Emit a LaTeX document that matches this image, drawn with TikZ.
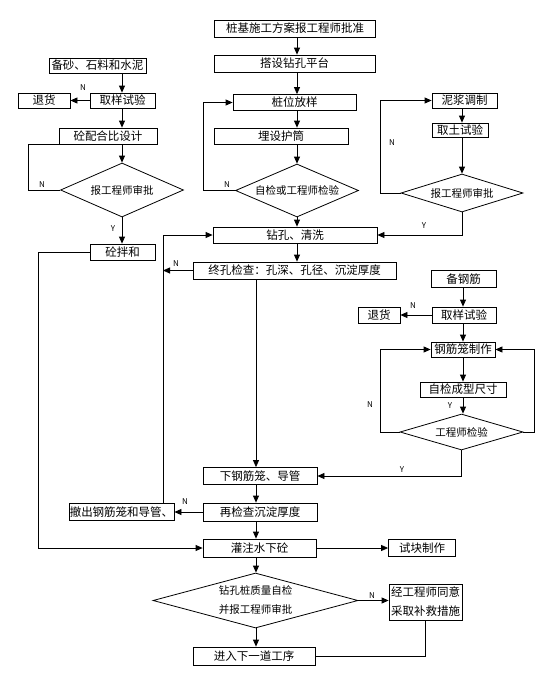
\documentclass[tikz,border=0pt]{standalone}
\usepackage{fontspec}
\setmainfont{Noto Sans CJK SC}
\usetikzlibrary{arrows.meta, shapes.geometric}

\begin{document}
\begin{tikzpicture}[x=1pt, y=-1pt, line width=.8pt, >={Triangle[length=7pt, width=6pt]}, box node/.style={rectangle, draw, fill=white, inner sep=0pt, minimum height=16pt, font=\fontsize{11.5}{12}\selectfont}, check node/.style={diamond, draw, fill=white, inner sep=0pt, align=center, font=\fontsize{10.5}{19}\selectfont}, tag node/.style={inner sep=0pt, font=\fontsize{8}{8}\selectfont}]
\useasboundingbox (0,0) rectangle (536,673);
% left column
\node[box node, minimum width=97pt, minimum height=15pt](bs) at (97.5,65.5){备砂、石料和水泥};
\node[box node, minimum width=65pt, minimum height=15pt](qy1) at (122.5,100.5){取样试验};
\node[box node, minimum width=52pt, minimum height=15pt, node distance=78.5pt](th1)[left of=qy1]{退货};
\node[box node, minimum width=98pt](pb) at (108,136){砼配合比设计};
\node[check node, minimum width=123pt, minimum height=54pt, aspect=2.3](sp1) at (122,190){报工程师审批};
\node[box node, minimum width=65pt](bh) at (122.5,252){砼拌和};
% middle column
\node[box node, minimum width=161pt, minimum height=17pt](zj) at (295,28.5){桩基施工方案报工程师批准};
\node[box node, minimum width=161pt, minimum height=17pt](ds) at (294.5,63.5){搭设钻孔平台};
\node[box node, minimum width=123pt](zw) at (294.5,102.5){桩位放样};
\node[box node, minimum width=134pt](mh) at (281,136){埋设护筒};
\node[check node, minimum width=123pt, minimum height=53pt, aspect=2.3](zc) at (297,190.5){自检或工程师检验};
\node[box node, minimum width=164pt](zk) at (295,235){钻孔、清洗};
\node[box node, minimum width=203pt, minimum height=17pt](jc) at (294.5,270.5){终孔检查：孔深、孔径、沉淀厚度};
\node[box node, minimum width=114pt, minimum height=17pt](xg) at (260,476){下钢筋笼、导管};
\node[box node, minimum width=114pt, minimum height=18pt](zj2) at (260,512){再检查沉淀厚度};
\node[box node, minimum width=105pt, minimum height=17pt, node distance=138.5pt](cc)[left of=zj2]{撤出钢筋笼和导管、};
\node[box node, minimum width=113pt, minimum height=18pt](gz) at (259.5,548){灌注水下砼};
\node[box node, minimum width=67pt, minimum height=17pt, node distance=162.5pt](sk)[right of=gz]{试块制作};
\node[check node, minimum width=205pt, minimum height=55pt, aspect=3.7](zl) at (255.5,600.5){钻孔桩质量自检\\并报工程师审批};
\node[box node, minimum width=73pt, minimum height=36pt, align=center, font=\fontsize{11.5}{19}\selectfont](jg) at (425.5,602){经工程师同意\\采取补救措施};
\node[box node, minimum width=122pt, minimum height=18pt](jr) at (254,656){进入下一道工序};
% right columns
\node[box node, minimum width=65pt, minimum height=15pt](nj) at (464.5,100.5){泥浆调制};
\node[box node, minimum width=56pt, minimum height=14pt](qt) at (460,130){取土试验};
\node[check node, minimum width=122pt, minimum height=38pt, aspect=3.2](sp2) at (462,193){报工程师审批};
\node[box node, minimum width=65pt, minimum height=17pt](bg) at (463.5,279){备钢筋};
\node[box node, minimum width=64pt](qy2) at (464,315){取样试验};
\node[box node, minimum width=42pt, node distance=85pt](th2)[left of=qy2]{退货};
\node[box node, minimum width=64pt, minimum height=15pt](gl) at (463,349.5){钢筋笼制作};
\node[box node, minimum width=86pt, minimum height=15pt](zx) at (463,389.5){自检成型尺寸};
\node[check node, minimum width=123pt, minimum height=36pt, aspect=3.4](gs) at (461.5,432){工程师检验};

\coordinate (lc) at (122,0);
\coordinate (mc) at (297,0);
\coordinate (dc) at (256,0);
\coordinate (rc) at (462,0);
\coordinate (gc) at (463,0);
\coordinate (l0) at (28,0);
\coordinate (l1) at (38,0);
\coordinate (bx) at (163,0);
\coordinate (m0) at (203,0);
\coordinate (r0) at (380,0);
\coordinate (r1) at (534,0);

\foreach \a/\b in {bs/qy1, qy1/pb, pb/sp1, sp1/bh}
    \draw[->] (\a.south -| lc) -- (\b.north -| lc);
\foreach \a/\b in {zj/ds, ds/zw, zw/mh, mh/zc, zc/zk, zk/jc}
    \draw[->] (\a.south -| mc) -- (\b.north -| mc);
\foreach \a/\b in {jc/xg, xg/zj2, zj2/gz, gz/zl, zl/jr}
    \draw[->] (\a.south -| dc) -- (\b.north -| dc);
\foreach \a/\b in {nj/qt, qt/sp2}
    \draw[->] (\a.south -| rc) -- (\b.north -| rc);
\foreach \a/\b in {bg/qy2, qy2/gl, gl/zx, zx/gs}
    \draw[->] (\a.south -| gc) -- (\b.north -| gc);

\draw[->] (qy1.west) -- (th1.east);
\draw[->] (qy2.west) -- (th2.east);
\draw[->] (zj2.west) -- (cc.east);
\draw[->] (gz.east) -- (sk.west);
\draw[->] (zl.east) -- (zl.east -| jg.west);
\draw (jg.south) |- (jr.east);
\draw (sp1.west) -- (sp1.west -| l0) |- (pb.south west);
\draw[->] (bh.west) -- (bh.west -| l1) |- (gz.west);
\draw[->] (zc.west) -- (zc.west -| m0) |- (zw.west);
\draw[->] (jc.west) -- (jc.west -| bx);
\draw[->] (cc.north -| bx) |- (zk.west);
\draw[->] (sp2.west) -- (sp2.west -| r0) |- (nj.west);
\draw[->] (sp2.south) |- (zk.east);
\draw[->] (gs.west) -- (gs.west -| r0) |- (gl.west);
\draw[->] (gs.east) -- (gs.east -| r1) |- (gl.east);
\draw[->] (gs.south) |- (xg.east);

\foreach \t/\x/\y [count=\i] in {N/83/88, N/42/185, Y/113/229, N/227/185, N/392/143, Y/424/226, N/176/264, N/413/306, N/370/405, Y/450/406, Y/402/470, N/185/502, N/372/596}
    \node[tag node](t\i) at (\x,\y){\t};
\end{tikzpicture}
\end{document}
